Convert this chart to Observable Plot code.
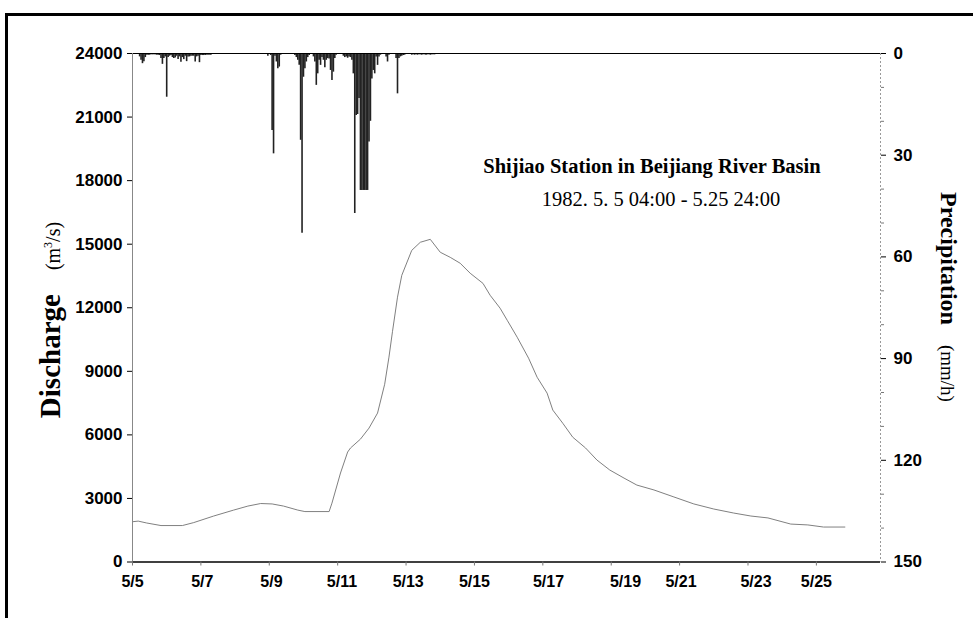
<!DOCTYPE html>
<html>
<head>
<meta charset="utf-8">
<script src="https://cdn.jsdelivr.net/npm/d3@7"></script>
<script src="https://cdn.jsdelivr.net/npm/@observablehq/plot@0.6"></script>
<style>
  body { margin: 0; background: #fff; }
  #wrap { position: relative; width: 973px; height: 618px; overflow: hidden; background: #fff; }
  #frame { position: absolute; left: 5px; top: 13px; width: 1100px; height: 800px; border-left: 3px solid #000; border-top: 3px solid #000; }
  #chart { position: absolute; left: 0; top: 0; }
  .lbl { position: absolute; white-space: nowrap; font-family: "Liberation Serif", "Times New Roman", serif; color: #000; transform-origin: center center; }
  sup { font-size: 12px; vertical-align: 8px; line-height: 0; }
</style>
</head>
<body>
<div id="wrap">
  <div id="frame"></div>
  <div id="chart"></div>
  <div class="lbl" id="title" style="left:652px; top:166px; transform:translate(-50%,-50%); font-weight:bold; font-size:20.5px;">Shijiao Station in Beijiang River Basin</div>
  <div class="lbl" id="sub" style="left:661px; top:199px; transform:translate(-50%,-50%); font-size:20.5px;">1982. 5. 5 04:00 - 5.25 24:00</div>
  <div class="lbl" id="ylab" style="left:50px; top:320px; transform:translate(-50%,-50%) rotate(-90deg);"><b style="font-size:29px">Discharge</b><span style="font-size:20px; margin-left:24px">(m<sup>3</sup>/s)</span></div>
  <div class="lbl" id="y2lab" style="left:948px; top:297px; transform:translate(-50%,-50%) rotate(90deg);"><b style="font-size:24px">Precipitation</b><span style="font-size:19px; margin-left:20px">(mm/h)</span></div>
</div>
<script>
// ---- data ----
// hours counted from 1982-05-05 04:00 (hourly categories)
const flowHour  = [0, 4, 10, 20, 35, 43, 57, 71, 81, 90, 98, 106, 116, 121, 138, 140, 146, 151, 153, 160, 166, 172, 177, 180, 182.5, 186, 189, 196, 202, 209, 216, 223, 230, 237, 246, 251, 258, 263, 270, 278, 284, 291, 295, 302, 309, 318, 326, 335, 345, 354, 366, 380, 394, 408, 422, 434, 446, 462, 474, 485, 500];
const flowValue = [1900, 1930, 1840, 1720, 1720, 1860, 2170, 2450, 2640, 2760, 2740, 2640, 2450, 2380, 2380, 2780, 4200, 5190, 5380, 5800, 6320, 7030, 8390, 9670, 10890, 12500, 13530, 14710, 15090, 15230, 14620, 14380, 14100, 13630, 13150, 12590, 11980, 11410, 10610, 9620, 8720, 7970, 7170, 6550, 5890, 5380, 4810, 4340, 3960, 3630, 3400, 3070, 2740, 2500, 2310, 2170, 2080, 1790, 1750, 1650, 1650];

const precipHour  = [5,6,7,8,9,10,11,12,13,14,15,16,17,18,19,20,21,22,23,24,25,26,27,28,29,30,31,32,33,34,35,36,37,38,39,40,41,42,43,44,45,46,47,48,49,50,51,52,53,54,55,
  95,97,98,99,100,101,102,103,104,
  114,115,116,117,118,119,120,121,122,123,124,
  127,128,129,130,131,132,133,134,135,136,137,138,139,140,141,142,143,
  148,149,150,151,152,153,154,155,156,157,158,159,160,161,162,163,164,165,166,167,168,169,170,171,172,173,174,
  178,179,180,185,186,187,188,189,190,191,
  196,197,198,199,200,201,202,203,204,205,206,207,208,209,210,211,212];
const precipValue = [1.0,2.0,3.0,2.4,1.2,0.5,0.5,0.5,0.4,0.4,0.4,0.4,0.5,0.5,0.6,1.5,3.2,1.5,1.0,12.9,1.2,0.8,0.6,1.2,1.5,1.3,0.8,1.8,1.0,2.6,1.2,1.8,0.8,2.4,1.0,1.0,0.8,0.8,0.8,2.5,1.0,0.8,2.7,0.6,0.6,0.6,0.6,0.5,0.5,0.5,0.5,
  0.8,0.6,22.7,29.6,0.8,2.5,4.5,4.0,0.5,
  0.6,1.2,2.0,3.5,25.6,53.0,7.0,4.5,2.5,1.2,0.6,
  1.0,2.5,9.4,6.0,2.0,3.5,1.2,2.0,4.2,2.0,1.5,1.6,5.0,8.0,5.5,1.5,0.5,
  0.8,1.2,1.0,1.4,1.0,1.2,2.0,6.0,47.2,18.3,18.0,13.3,40.4,40.4,40.4,40.4,40.4,40.4,26.1,20.0,7.5,5.0,6.0,1.0,3.5,1.0,0.5,
  1.0,2.5,0.5,1.5,11.9,1.5,1.0,0.8,0.6,0.5,
  0.5,0.4,0.5,0.4,0.5,0.4,0.4,0.5,0.4,0.4,0.5,0.4,0.4,0.5,0.4,0.4,0.4];

const qTicks = [0, 3000, 6000, 9000, 12000, 15000, 18000, 21000, 24000];
const pTicks = [0, 30, 60, 90, 120, 150];
const pMinorTicks = [10, 20, 40, 50, 70, 80, 100, 110, 130, 140];
const dayTickHours = [0, 48, 96, 144, 192, 240, 288, 336, 384, 432, 480];
const dayLabelHours = [0, 49, 97.5, 147, 193.5, 240, 292, 346, 385, 437.6, 480];
const dayLabels = ["5/5", "5/7", "5/9", "5/11", "5/13", "5/15", "5/17", "5/19", "5/21", "5/23", "5/25"];

const qMax = 24000, pMax = 150, hMax = 525;
const k = qMax / pMax;

const flow = flowHour.map((h, i) => ({h, q: flowValue[i]}));
const precip = precipHour.map((h, i) => ({h, v: precipValue[i]}));
const labelMap = new Map(dayLabelHours.map((h, i) => [h, dayLabels[i]]));

const chart = Plot.plot({
  width: 973,
  height: 618,
  marginLeft: 132,
  marginRight: 93,
  marginTop: 53,
  marginBottom: 56.5,
  x: {domain: [0, hMax], label: null},
  y: {domain: [0, qMax], label: null},
  style: {fontFamily: "'Liberation Sans', Arial, sans-serif", fontWeight: "bold", fontSize: "17px", background: "transparent", color: "#000", overflow: "visible"},
  marks: [
    Plot.ruleX(precip, {x: "h", y1: qMax, y2: d => qMax - d.v * k, stroke: "#222", strokeWidth: 1.6}),
    Plot.line(flow, {x: "h", y: "q", stroke: "#808080", strokeWidth: 1, curve: "linear"}),
    Plot.ruleY([0], {stroke: "#000", strokeWidth: 1.5}),
    Plot.ruleY([qMax], {stroke: "#000", strokeWidth: 1.2}),
    Plot.ruleX([0], {stroke: "#888", strokeWidth: 1}),
    Plot.ruleX([hMax], {stroke: "#999", strokeWidth: 1, strokeDasharray: "2,2"}),
    Plot.axisY({anchor: "left", ticks: qTicks, tickFormat: d => String(d), tickSize: 5, tickPadding: 5, label: null}),
    Plot.axisY({anchor: "right", ticks: pTicks.map(p => qMax - p * k), tickFormat: d => String(Math.round((qMax - d) / k)), tickSize: 5, tickPadding: 8, label: null}),
    Plot.axisY({anchor: "right", ticks: pMinorTicks.map(p => qMax - p * k), tickFormat: () => "", tickSize: 3, label: null, stroke: "#777"}),
    Plot.axisX({ticks: dayTickHours, tickFormat: () => "", tickSize: 4, label: null, stroke: "#777"}),
    Plot.axisX({ticks: dayLabelHours, tickFormat: d => labelMap.get(d), tickSize: 0, tickPadding: 14, label: null, fontSize: 16})
  ]
});
document.getElementById("chart").appendChild(chart);
</script>
</body>
</html>
